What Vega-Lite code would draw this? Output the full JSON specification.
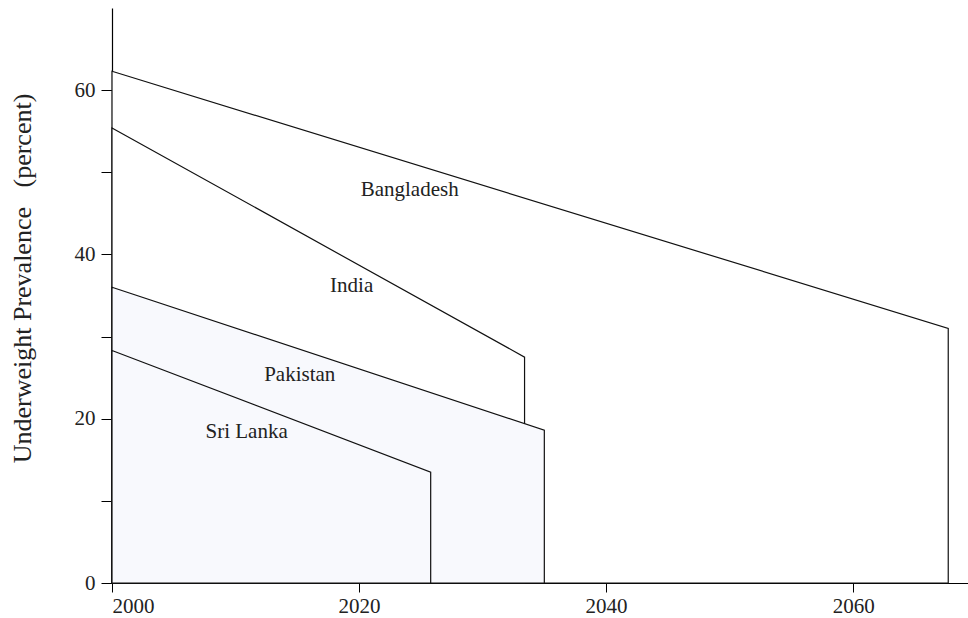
{
  "$schema": "https://vega.github.io/schema/vega-lite/v6.json",
  "autosize": {"type": "none"},
  "width": 856,
  "height": 575,
  "padding": {"left": 112, "top": 8, "right": 0, "bottom": 35},
  "background": "white",
  "config": {
    "view": {"stroke": null},
    "font": "Liberation Serif",
    "axis": {
      "grid": false,
      "domainColor": "#000",
      "domainWidth": 1.2,
      "tickColor": "#000",
      "tickWidth": 1,
      "labelFont": "Liberation Serif",
      "labelFontSize": 21,
      "labelColor": "#222",
      "titleFont": "Liberation Serif",
      "titleFontSize": 26,
      "titleFontWeight": "normal",
      "titleColor": "#222"
    }
  },
  "datasets": {
    "series": [
      {"country": "Bangladesh", "year": 2000, "value": 62.3},
      {"country": "Bangladesh", "year": 2067.7, "value": 31.0},
      {"country": "India", "year": 2000, "value": 55.4},
      {"country": "India", "year": 2033.4, "value": 27.5},
      {"country": "Pakistan", "year": 2000, "value": 36.0},
      {"country": "Pakistan", "year": 2035.0, "value": 18.6},
      {"country": "Sri Lanka", "year": 2000, "value": 28.3},
      {"country": "Sri Lanka", "year": 2025.8, "value": 13.5}
    ],
    "labels": [
      {"country": "Bangladesh", "year": 2024.1, "value": 47.8},
      {"country": "India", "year": 2019.4, "value": 36.1},
      {"country": "Pakistan", "year": 2015.2, "value": 25.3},
      {"country": "Sri Lanka", "year": 2010.9, "value": 18.4}
    ]
  },
  "layer": [
    {
      "data": {"name": "series"},
      "transform": [{"filter": "datum.country === 'Bangladesh'"}],
      "mark": {"type": "area", "fill": "#ffffff", "stroke": "#111", "strokeWidth": 1.2, "clip": false},
      "encoding": {
        "x": {"field": "year", "type": "quantitative", "scale": {"domain": [2000, 2069.3], "nice": false, "zero": false},
          "axis": {"values": [2000, 2020, 2040, 2060], "title": null, "format": "d", "tickSize": 9, "labelPadding": 3}},
        "y": {"field": "value", "type": "quantitative", "scale": {"domain": [0, 70], "nice": false},
          "axis": {"values": [0, 10, 20, 30, 40, 50, 60], "labelExpr": "datum.value % 20 === 0 ? datum.label : ''", "tickSize": 11, "labelPadding": 6,
            "title": "Underweight Prevalence\u00a0\u00a0 (percent)", "titleX": -90, "titleY": 270, "titleAngle": -90, "titleAlign": "center", "titleBaseline": "middle"}},
        "y2": {"datum": 0}
      }
    },
    {
      "data": {"name": "series"},
      "transform": [{"filter": "datum.country === 'India'"}],
      "mark": {"type": "area", "fill": "#ffffff", "stroke": "#111", "strokeWidth": 1.2},
      "encoding": {
        "x": {"field": "year", "type": "quantitative"},
        "y": {"field": "value", "type": "quantitative"},
        "y2": {"datum": 0}
      }
    },
    {
      "data": {"name": "series"},
      "transform": [{"filter": "datum.country === 'Pakistan'"}],
      "mark": {"type": "area", "fill": "#f8f9fd", "fillOpacity": 1, "stroke": "#111", "strokeWidth": 1.2},
      "encoding": {
        "x": {"field": "year", "type": "quantitative"},
        "y": {"field": "value", "type": "quantitative"},
        "y2": {"datum": 0}
      }
    },
    {
      "data": {"name": "series"},
      "transform": [{"filter": "datum.country === 'Sri Lanka'"}],
      "mark": {"type": "area", "fill": "#f8f9fd", "fillOpacity": 1, "stroke": "#111", "strokeWidth": 1.2},
      "encoding": {
        "x": {"field": "year", "type": "quantitative"},
        "y": {"field": "value", "type": "quantitative"},
        "y2": {"datum": 0}
      }
    },
    {
      "data": {"name": "labels"},
      "mark": {"type": "text", "font": "Liberation Serif", "fontSize": 21, "color": "#222", "align": "center", "baseline": "middle"},
      "encoding": {
        "x": {"field": "year", "type": "quantitative"},
        "y": {"field": "value", "type": "quantitative"},
        "text": {"field": "country"}
      }
    }
  ]
}
